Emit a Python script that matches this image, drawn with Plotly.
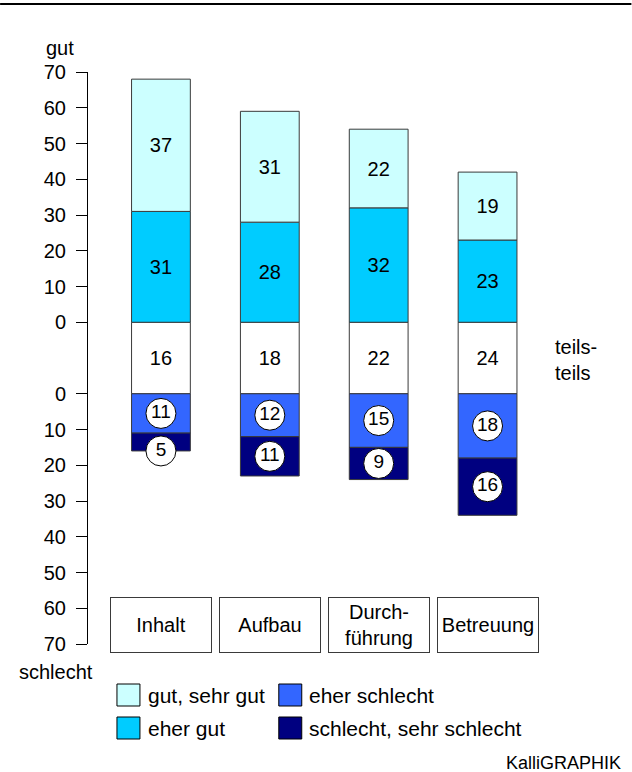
import plotly.graph_objects as go

categories = ["Inhalt", "Aufbau", "Durchführung", "Betreuung"]
category_labels = ["Inhalt", "Aufbau", "Durch-<br>führung", "Betreuung"]
gut_sehr_gut = [37, 31, 22, 19]
eher_gut = [31, 28, 32, 23]
teils_teils = [16, 18, 22, 24]
eher_schlecht = [11, 12, 15, 18]
schlecht_sehr_schlecht = [5, 11, 9, 16]
tick_values = [0, 10, 20, 30, 40, 50, 60, 70]

C_GUT = "#CCFFFF"
C_EHER_GUT = "#00CCFF"
C_EHER_SCHL = "#3366FF"
C_SCHL = "#000080"
FONT = "Liberation Sans, Arial, sans-serif"
EDGE = "#3a3a3a"

BAND = 20  # height of the neutral "teils-teils" band in axis units

W, H = 632, 772
L, R, T, B = 88, 89.5, 72, 128
PW, PH = W - L - R, H - T - B


def pxx(x):
    return (x - L) / PW


def pxy(y):
    return (H - B - y) / PH


fig = go.Figure()
bw = 0.54
line = dict(color=EDGE, width=1)
tf = dict(size=20, color="black", family=FONT)

fig.add_bar(x=categories, y=[BAND] * 4, base=[0] * 4, width=bw,
            marker=dict(color="white", line=line), text=[str(v) for v in teils_teils],
            textposition="inside", insidetextanchor="middle", textangle=0,
            textfont=tf, name="teils-teils")
fig.add_bar(x=categories, y=eher_gut, base=[BAND] * 4, width=bw,
            marker=dict(color=C_EHER_GUT, line=line), text=[str(v) for v in eher_gut],
            textposition="inside", insidetextanchor="middle", textangle=0,
            textfont=tf, name="eher gut")
fig.add_bar(x=categories, y=gut_sehr_gut, base=[BAND + e for e in eher_gut], width=bw,
            marker=dict(color=C_GUT, line=line), text=[str(v) for v in gut_sehr_gut],
            textposition="inside", insidetextanchor="middle", textangle=0,
            textfont=tf, name="gut, sehr gut")
fig.add_bar(x=categories, y=eher_schlecht, base=[-v for v in eher_schlecht], width=bw,
            marker=dict(color=C_EHER_SCHL, line=line), name="eher schlecht")
fig.add_bar(x=categories, y=schlecht_sehr_schlecht,
            base=[-(a + b) for a, b in zip(eher_schlecht, schlecht_sehr_schlecht)], width=bw,
            marker=dict(color=C_SCHL, line=line), name="schlecht, sehr schlecht")

# circled labels for the negative segments
unit_px = PH / 160.0
circ = 30
lab_y, lab_t = [], []
for i, c in enumerate(categories):
    a = eher_schlecht[i]
    b = schlecht_sehr_schlecht[i]
    lab_y.append(-a / 2)
    lab_t.append(str(a))
    mid = -(a + b / 2)
    if b * unit_px < circ:
        mid = -(a + b)
    lab_y.append(mid)
    lab_t.append(str(b))
xx = [c for c in categories for _ in range(2)]
fig.add_scatter(x=xx, y=lab_y, mode="markers+text", text=lab_t,
                textposition="middle center",
                marker=dict(size=circ, color="white", line=dict(color="black", width=1)),
                textfont=dict(size=19, color="black", family=FONT),
                showlegend=False, hoverinfo="skip", cliponaxis=False)

tickvals = [BAND + t for t in tick_values] + [-t for t in tick_values]
ticktext = [str(t) for t in tick_values] * 2

fig.update_layout(
    width=W, height=H, margin=dict(l=L, r=R, t=T, b=B, pad=0),
    plot_bgcolor="white", paper_bgcolor="white", showlegend=False,
    barmode="overlay", font=dict(family=FONT, size=20, color="black"),
    xaxis=dict(range=[-0.67, 3.5], showticklabels=False, showgrid=False,
               zeroline=False, showline=False, ticks=""),
    yaxis=dict(range=[-70, 90], tickvals=tickvals, ticktext=ticktext,
               showgrid=False, zeroline=False, showline=True, linecolor="black",
               linewidth=1, ticks="outside", ticklen=11, tickcolor="black",
               tickwidth=1, tickfont=dict(size=20, family=FONT, color="black"),
               ticklabelstandoff=6),
)

annotations = []
for c, lab in zip(categories, category_labels):
    annotations.append(dict(x=c, y=-64.6, xref="x", yref="y", text=lab, showarrow=False,
                            width=98, height=52, borderwidth=1, borderpad=1,
                            bordercolor=EDGE, bgcolor="white",
                            font=dict(size=20, family=FONT, color="black")))


def txt(x, y, text, xanchor="left", size=20):
    annotations.append(dict(x=pxx(x), y=pxy(y), xref="paper", yref="paper", text=text,
                            showarrow=False, xanchor=xanchor, yanchor="middle", align="left",
                            font=dict(size=size, family=FONT, color="black")))


txt(44, 48, "gut")
txt(56, 672, "schlecht", xanchor="center")
txt(554, 360, "teils-<br>teils")
txt(146, 695, "gut, sehr gut", size=21)
txt(307, 695, "eher schlecht", size=21)
txt(146, 728, "eher gut", size=21)
txt(307, 728, "schlecht, sehr schlecht", size=21)
txt(624, 763, "KalliGRAPHIK", xanchor="right", size=18)

shapes = [dict(type="line", xref="paper", yref="paper", x0=pxx(0), x1=pxx(632),
               y0=pxy(4), y1=pxy(4), line=dict(color="black", width=2))]
legend_items = [(117, 684, C_GUT), (279, 684, C_EHER_SCHL),
                (117, 717, C_EHER_GUT), (279, 717, C_SCHL)]
for x0, y0, col in legend_items:
    shapes.append(dict(type="rect", xref="paper", yref="paper",
                       x0=pxx(x0), x1=pxx(x0 + 23), y0=pxy(y0), y1=pxy(y0 + 22),
                       fillcolor=col, line=dict(color="black", width=1)))

fig.update_layout(annotations=annotations, shapes=shapes)
fig.write_html("out.html")
